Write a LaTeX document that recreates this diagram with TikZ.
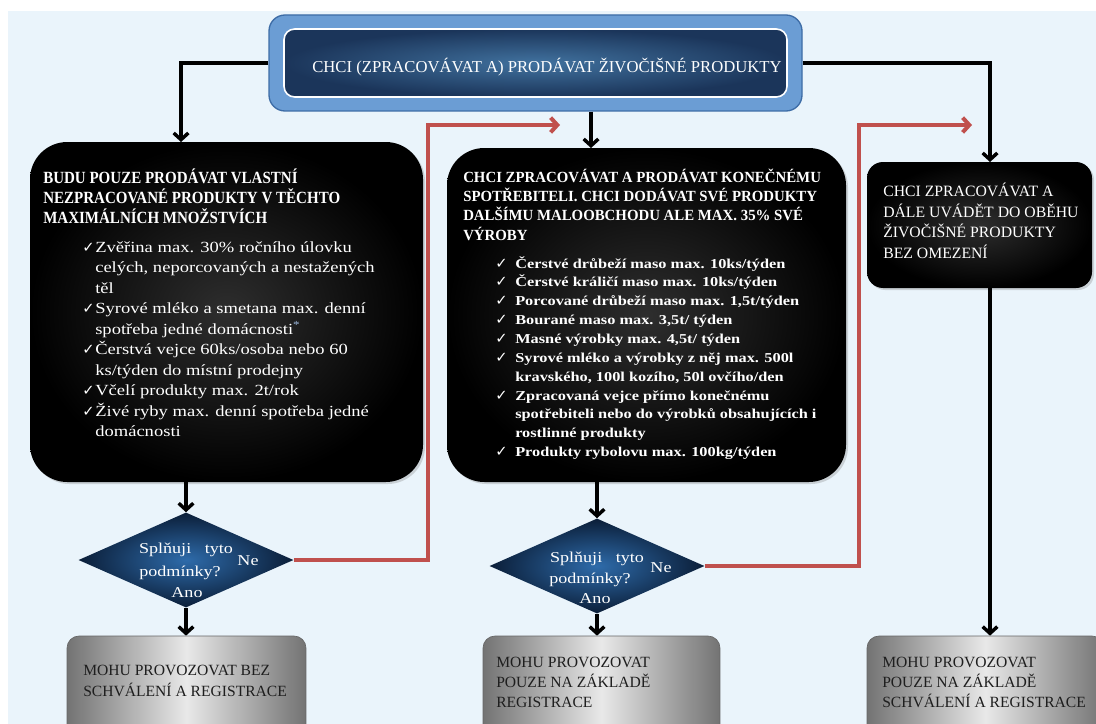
\documentclass[tikz,border=0pt]{standalone}
\usepackage{fontspec}
\setmainfont{Liberation Serif}
\newfontfamily\titlefont[FakeStretch=0.88]{Liberation Serif}
\newfontfamily\midtitlefont[FakeStretch=0.96]{Liberation Serif}
\newfontfamily\widefont[FakeStretch=1.2]{Liberation Serif}
\newfontfamily\symfont{DejaVu Sans}
\usetikzlibrary{arrows.meta,shapes.geometric,fit,shadows}
\definecolor{bgblue}{HTML}{EAF4FB}
\definecolor{redline}{HTML}{C0504D}
\definecolor{topfill}{HTML}{6B9DD4}
\definecolor{topedge}{HTML}{3D6CA6}
\definecolor{navyin}{HTML}{41729F}
\definecolor{navyout}{HTML}{1B355A}
\definecolor{diain}{HTML}{2E6BAA}
\definecolor{diaout}{HTML}{0B1E38}
\definecolor{astblue}{HTML}{9DB8DC}
\definecolor{graytext}{HTML}{1E1E1E}
\newcommand{\ck}{{\symfont\fontsize{11}{10}\selectfont ✓}}
\begin{document}
\begin{tikzpicture}[x=0.75pt,y=-0.75pt,
  blackbox/.style={inner sep=0pt, rounded corners=28pt, inner color=black!82, outer color=black,
    drop shadow={shadow xshift=1.5pt,shadow yshift=-1.5pt,opacity=0.3}},
  decision/.style={diamond, inner sep=0pt, minimum width=161.25pt, minimum height=71.25pt,
    inner color=diain, outer color=diaout},
  graybox/.style={inner sep=0pt, rounded corners=9pt, left color=black!55, right color=black!55,
    middle color=black!9, draw=black!60, line width=0.5pt},
  conn/.style={draw=black, line width=2.6pt, -{Straight Barb[length=5pt,width=11pt]}},
  redconn/.style={draw=redline, line width=3pt, -{Straight Barb[length=5pt,width=11pt]}},
  boxtitle/.style={text=white, inner sep=0pt, align=left, anchor=base west},
  bulletlist/.style={text=white, inner sep=0pt, anchor=base west},
  resulttext/.style={text=graytext, inner sep=0pt, align=left, anchor=base west,
    font=\fontsize{11.7}{15.2}\selectfont},
  diatext/.style={text=white, inner sep=0pt, anchor=base,
    font=\widefont\fontsize{11.3}{13}\selectfont}]
\useasboundingbox (0,0) rectangle (1096,724);
\clip (0,0) rectangle (1096,724);
\fill[white] (0,0) rectangle (1096,724);
\fill[bgblue] (8,11) rectangle (1096,724);

% coordinates for connector ends
\coordinate (Lin) at (181,142);
\coordinate (Min) at (591,148);
\coordinate (Rin) at (990,162);
\coordinate (Lcorner) at (428,125);
\coordinate (Ltip) at (560,125);
\coordinate (Mcorner) at (859,125);
\coordinate (Mtip) at (972,125);

% top box
\node[fit={(269,15) (802,111)}, inner sep=0pt, rounded corners=12pt, fill=topfill,
  draw=topedge, line width=1pt] (topout) {};
\node[fit={(284,29) (787,97)}, inner sep=0pt, rounded corners=8pt, inner color=navyin,
  outer color=navyout, draw=white, line width=1.2pt] (top) {};
\node[text=white, inner sep=0pt, font=\fontsize{12.5}{14}\selectfont] (toptext) at (547,67)
  {CHCI (ZPRACOVÁVAT A) PRODÁVAT ŽIVOČIŠNÉ PRODUKTY};

% black boxes
\node[blackbox, fit={(30,142) (423,482)}] (L1) {};
\node[blackbox, fit={(447,148) (846,482)}] (M1) {};
\node[blackbox, rounded corners=12pt, fit={(867,162) (1092,288)}] (R1) {};

% left box text (anchor on last line baseline)
\node[boxtitle, font=\titlefont\bfseries\fontsize{12.8}{15}\selectfont] (L1t) at (43,223)
  {BUDU POUZE PRODÁVAT VLASTNÍ\\NEZPRACOVANÉ PRODUKTY V TĚCHTO\\MAXIMÁLNÍCH MNOŽSTVÍCH};
\node[bulletlist, font=\widefont\fontsize{11.6}{15.4}\selectfont] (L1b) at (82,252)
  {\begin{tabular}[t]{@{}p{9.75pt}@{}l@{}}
  \ck & Zvěřina max. 30\% ročního úlovku\\
      & celých, neporcovaných a nestažených\\
      & těl\\
  \ck & Syrové mléko a smetana max. denní\\
      & spotřeba jedné domácnosti\textsuperscript{\color{astblue}*}\\
  \ck & Čerstvá vejce 60ks/osoba nebo 60\\
      & ks/týden do místní prodejny\\
  \ck & Včelí produkty max. 2t/rok\\
  \ck & Živé ryby max. denní spotřeba jedné\\
      & domácnosti
  \end{tabular}};

% middle box text
\node[boxtitle, font=\midtitlefont\bfseries\fontsize{11.6}{14.3}\selectfont] (M1t) at (463,240)
  {CHCI ZPRACOVÁVAT A PRODÁVAT KONEČNÉMU\\SPOTŘEBITELI. CHCI DODÁVAT SVÉ PRODUKTY\\DALŠÍMU MALOOBCHODU ALE MAX. 35\% SVÉ\\VÝROBY};
\node[bulletlist, font=\widefont\bfseries\fontsize{10.2}{14.15}\selectfont] (M1b) at (495,268)
  {\begin{tabular}[t]{@{}p{15pt}@{}l@{}}
  \ck & Čerstvé drůbeží maso max. 10ks/týden\\
  \ck & Čerstvé králičí maso max. 10ks/týden\\
  \ck & Porcované drůbeží maso max. 1,5t/týden\\
  \ck & Bourané maso max. 3,5t/ týden\\
  \ck & Masné výrobky max. 4,5t/ týden\\
  \ck & Syrové mléko a výrobky z něj max. 500l\\
      & kravského, 100l kozího, 50l ovčího/den\\
  \ck & Zpracovaná vejce přímo konečnému\\
      & spotřebiteli nebo do výrobků obsahujících i\\
      & rostlinné produkty\\
  \ck & Produkty rybolovu max. 100kg/týden
  \end{tabular}};

% right box text
\node[boxtitle, font=\fontsize{11.8}{15.3}\selectfont] (R1t) at (883,258)
  {CHCI ZPRACOVÁVAT A\\DÁLE UVÁDĚT DO OBĚHU\\ŽIVOČIŠNÉ PRODUKTY\\BEZ OMEZENÍ};

% decisions
\node[decision] (LD) at (186,560) {};
\node[decision] (MD) at (597,566) {};
\node[diatext] (LDa) at (186,553) {Splňuji\hspace{0.9em}tyto};
\node[diatext] (LDb) at (180,576) {podmínky?};
\node[diatext] (LDc) at (187,597) {Ano};
\node[diatext] (LDd) at (248,565) {Ne};
\node[diatext] (MDa) at (597,562) {Splňuji\hspace{0.9em}tyto};
\node[diatext] (MDb) at (590,583) {podmínky?};
\node[diatext] (MDc) at (595,603) {Ano};
\node[diatext] (MDd) at (661,572) {Ne};

% result boxes
\node[graybox, fit={(67,636) (306,745)}] (LG) {};
\node[graybox, fit={(483,636) (720,745)}] (MG) {};
\node[graybox, fit={(867,636) (1104,745)}] (RG) {};
\node[resulttext] (LGt) at (83,696) {MOHU PROVOZOVAT BEZ\\SCHVÁLENÍ A REGISTRACE};
\node[resulttext, font=\fontsize{11.7}{15}\selectfont] (MGt) at (496,707) {MOHU PROVOZOVAT\\POUZE NA ZÁKLADĚ\\REGISTRACE};
\node[resulttext, font=\fontsize{11.7}{15}\selectfont] (RGt) at (882,707) {MOHU PROVOZOVAT\\POUZE NA ZÁKLADĚ\\SCHVÁLENÍ A REGISTRACE};

% connectors
\draw[conn] (topout.west) -| (Lin);
\draw[conn] (topout.south -| Min) -- (Min);
\draw[conn] (topout.east) -| (Rin);
\draw[conn] (L1.south -| LD.north) -- (LD.north);
\draw[conn] (LD.south) -- (LG.north -| LD.south);
\draw[conn] (M1.south -| MD.north) -- (MD.north);
\draw[conn] (MD.south) -- (MG.north -| MD.south);
\draw[conn] (R1.south -| Rin) -- (RG.north -| Rin);
\draw[redconn] (LD.east) -| (Lcorner) -- (Ltip);
\draw[redconn] (MD.east) -| (Mcorner) -- (Mtip);
\end{tikzpicture}
\end{document}
